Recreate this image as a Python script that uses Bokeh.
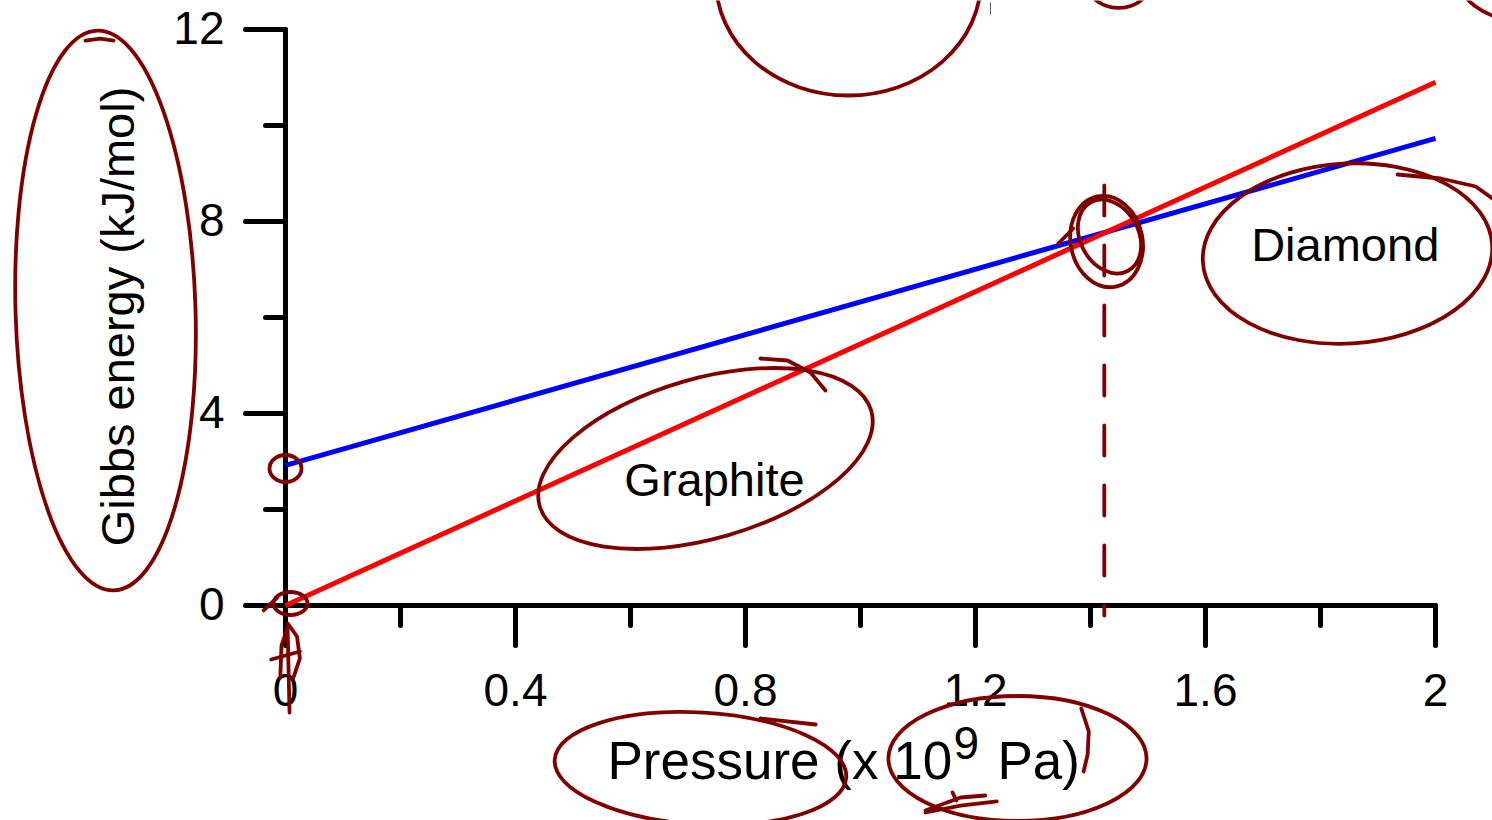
import numpy as np
from bokeh.plotting import figure
from bokeh.models import Range1d
from bokeh.core.properties import value
from bokeh.embed import file_html
from bokeh.resources import INLINE

# ---------------- chart data ----------------
pressure = [0.0, 2.0]                 # x 10^9 Pa
graphite_g = [0.0, 10.9]              # kJ/mol (red)
diamond_g = [2.92, 9.73]              # kJ/mol (blue)
transition_p = [1.424, 1.424]         # hand-drawn dashed marker
transition_g = [8.75, -0.21]

x_major = [0.0, 0.4, 0.8, 1.2, 1.6, 2.0]
x_major_labels = ["0", "0.4", "0.8", "1.2", "1.6", "2"]
x_minor = [0.2, 0.6, 1.0, 1.4, 1.8]
y_major = [0, 4, 8, 12]
y_major_labels = ["0", "4", "8", "12"]
y_minor = [2, 6, 10]

phase_names = ["Graphite", "Diamond"]
phase_x = [0.746, 1.843]
phase_y = [2.25, 7.146]

# ---------------- hand-drawn annotation ink (data units) ----------------
ann_x = [-0.313, 0.7304, 1.847, 1.428, 1.433, 0.0, 0.0087, 0.979, 1.449, 2.148, 0.7217, 1.273]
ann_y = [6.146, 3.0625, 7.333, 7.583, 7.6875, 2.854, 0.0417, 13.02, 13.125, 13.23, -3.396, -3.1875]
ann_w = [0.313, 0.600, 0.504, 0.125, 0.101, 0.0557, 0.0591, 0.461, 0.122, 0.226, 0.508, 0.449]
ann_h = [11.667, 3.333, 3.75, 1.917, 1.625, 0.5625, 0.479, 4.79, 1.354, 2.083, 2.333, 2.604]
ann_angle = [0.03, 0.28, 0.06, 0.2, 0.5, 0.0, 0.0, 0.0, 0.0, 0.0, -0.06, 0.0]

stroke_xs = [
    [0.826, 0.873, 0.913, 0.939],
    [1.934, 2.009, 2.070, 2.104],
    [1.344, 1.370],
    [-0.038, -0.014],
    [0.0035, 0.007],
    [-0.009, -0.0070, 0.0052, 0.0200, 0.0250, 0.0139],
    [-0.0250, 0.0, 0.0250],
    [0.826, 0.922],
    [1.384, 1.397, 1.395, 1.388],
    [1.113, 1.174, 1.237],
    [1.160, 1.167],
    [1.113, 1.174, 1.217],
    [-0.348, -0.322, -0.299],
]
stroke_ys = [
    [5.146, 5.104, 4.854, 4.479],
    [8.979, 8.896, 8.729, 8.438],
    [7.542, 7.854],
    [-0.104, 0.167],
    [-0.375, -2.229],
    [-1.500, -0.833, -0.396, -0.646, -1.1, -1.5],
    [-1.125, -1.042, -0.958],
    [-2.354, -2.479],
    [-2.146, -2.625, -3.104, -3.458],
    [-4.3125, -4.167, -4.083],
    [-3.896, -4.0625],
    [-4.271, -4.0, -3.958],
    [11.77, 11.81, 11.77],
]

# ---------------- layout ----------------
W, H = 1492, 820
X0PX, X2PX = 285, 1435      # pixel of x=0 and x=2
Y0PX, Y12PX = 605, 29       # pixel of y=0 and y=12
kx = (X2PX - X0PX) / 2.0
ky = (Y0PX - Y12PX) / 12.0
xs0 = -X0PX / kx
ys0 = -(H - Y0PX) / ky
TS = 18  # text baseline correction (px)

p = figure(width=W, height=H,
           x_range=Range1d(xs0, xs0 + W / kx),
           y_range=Range1d(ys0, ys0 + H / ky),
           output_backend="svg", toolbar_location=None,
           x_axis_location=None, y_axis_location=None,
           min_border=0, outline_line_color=None,
           background_fill_color="white", border_fill_color="white")
p.grid.visible = False

FONT = value("Liberation Sans")
AXW = 5
MAJ, MIN = 40, 20

# axes lines
p.line([x_major[0], x_major[-1]], [0, 0], line_color="black", line_width=AXW, line_cap="round")
p.line([0, 0], [y_major[0], y_major[-1]], line_color="black", line_width=AXW, line_cap="round")
# ticks
p.segment(x0=x_major, y0=[0] * len(x_major), x1=x_major, y1=[-MAJ / ky] * len(x_major),
          line_color="black", line_width=AXW, line_cap="round")
p.segment(x0=x_minor, y0=[0] * len(x_minor), x1=x_minor, y1=[-MIN / ky] * len(x_minor),
          line_color="black", line_width=AXW, line_cap="round")
p.segment(x0=[0] * len(y_major), y0=y_major, x1=[-MAJ / kx] * len(y_major), y1=y_major,
          line_color="black", line_width=AXW, line_cap="round")
p.segment(x0=[0] * len(y_minor), y0=y_minor, x1=[-MIN / kx] * len(y_minor), y1=y_minor,
          line_color="black", line_width=AXW, line_cap="round")
# tick labels
p.text(x=x_major, y=[-(102 - TS) / ky] * len(x_major), text=x_major_labels,
       text_font=FONT, text_font_size="46px", text_align="center",
       text_baseline="alphabetic", text_color="black")
p.text(x=[-61 / kx] * len(y_major), y=[v - (16.5 - TS) / ky for v in y_major], text=y_major_labels,
       text_font=FONT, text_font_size="46px", text_align="right",
       text_baseline="alphabetic", text_color="black")

# axis titles
p.text(x=[(135 - TS - X0PX) / kx], y=[(Y0PX - 316) / ky], text=["Gibbs energy (kJ/mol)"],
       angle=np.pi / 2, text_font=FONT, text_font_size="47px", text_align="center",
       text_baseline="alphabetic", text_color="black")
p.text(x=[(607 - X0PX) / kx], y=[(Y0PX - 778 + TS) / ky], text=["Pressure (x 10"],
       text_font=FONT, text_font_size="53px", text_align="left",
       text_baseline="alphabetic", text_color="black")
p.text(x=[(953 - X0PX) / kx], y=[(Y0PX - 760 + TS) / ky], text=["9"],
       text_font=FONT, text_font_size="46px", text_align="left",
       text_baseline="alphabetic", text_color="black")
p.text(x=[(997 - X0PX) / kx], y=[(Y0PX - 778 + TS) / ky], text=["Pa)"],
       text_font=FONT, text_font_size="53px", text_align="left",
       text_baseline="alphabetic", text_color="black")

# data lines
p.line(pressure, diamond_g, line_color="#0000FF", line_width=5)
p.line(pressure, graphite_g, line_color="#FF0000", line_width=5)

# phase labels
p.text(x=phase_x, y=[v + TS / ky for v in phase_y], text=phase_names, text_font=FONT,
       text_font_size="47px", text_align="center", text_baseline="alphabetic",
       text_color="black")

# annotation ink
INK = "#800000"
p.line(transition_p, transition_g, line_color=INK, line_width=3.8,
       line_dash="30 30", line_cap="round")
p.ellipse(x=ann_x, y=ann_y, width=ann_w, height=ann_h, angle=ann_angle,
          fill_color=None, line_color=INK, line_width=3.8)
p.multi_line(xs=stroke_xs, ys=stroke_ys, line_color=INK, line_width=3.8,
             line_cap="round", line_join="round")
p.line([1.226, 1.226], [12.5625, 12.3125], line_color="#555555", line_width=1)

open("out.html", "w").write(file_html(p, INLINE))
